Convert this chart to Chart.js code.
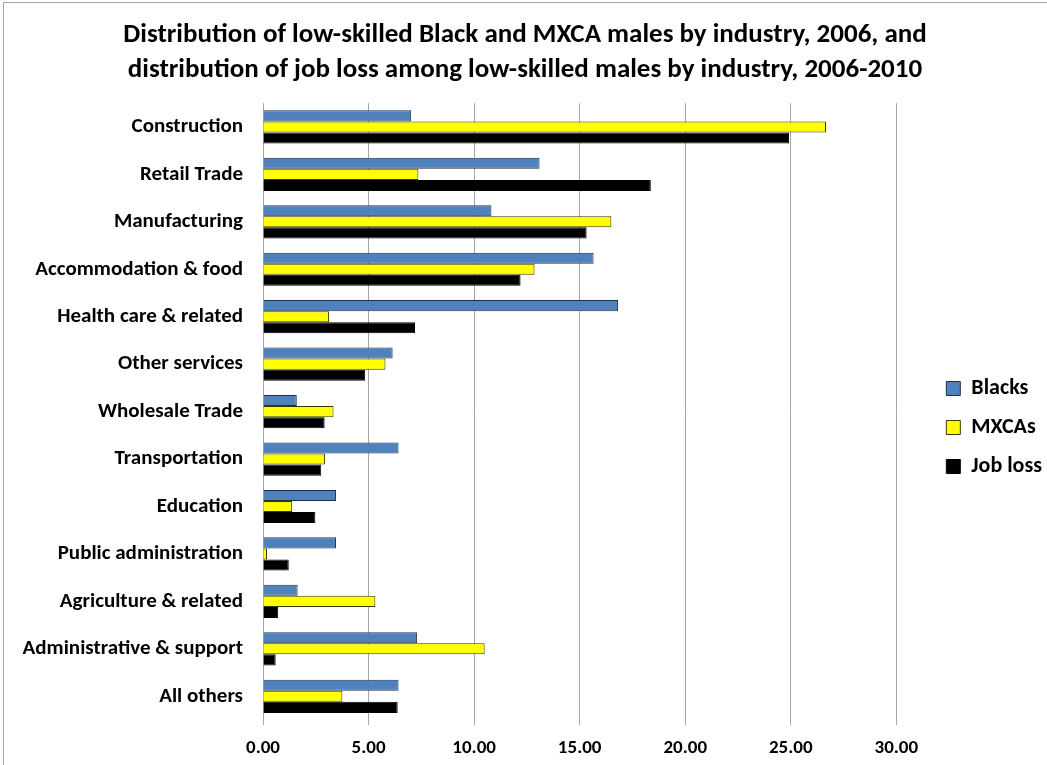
<!DOCTYPE html>
<html>
<head>
<meta charset="utf-8">
<script src="https://cdn.jsdelivr.net/npm/chart.js@4.4.1/dist/chart.umd.min.js"></script>
<style>
  html, body { margin: 0; padding: 0; background: #fff; }
  #wrap { position: relative; width: 1047px; height: 765px; box-sizing: border-box; border: 1px solid #a6a6a6; border-right: none; border-bottom: none; margin: 2px 0 0 3px; }
  canvas { display: block; }
</style>
</head>
<body>
<div id="wrap"><canvas id="chart" width="1044" height="763"></canvas></div>
<script>
const FONT = "'Carlito', 'Lato', 'Liberation Sans', sans-serif";

const industries = [
  "Construction", "Retail Trade", "Manufacturing", "Accommodation & food",
  "Health care & related", "Other services", "Wholesale Trade", "Transportation",
  "Education", "Public administration", "Agriculture & related",
  "Administrative & support", "All others"
];
const blacks  = [7.02, 13.10, 10.82, 15.66, 16.82, 6.14, 1.60, 6.42, 3.46, 3.46, 1.64, 7.30, 6.42];
const mxcas   = [26.67, 7.36, 16.50, 12.86, 3.13, 5.80, 3.34, 2.94, 1.38, 0.19, 5.32, 10.50, 3.76];
const jobLoss = [24.92, 18.37, 15.33, 12.20, 7.20, 4.84, 2.92, 2.76, 2.48, 1.22, 0.72, 0.60, 6.38];
const xTicks  = [0, 5, 10, 15, 20, 25, 30];

// legend sits lower and has a wider gap to the plot than Chart.js gives by default
const legendPlace = {
  id: "legendPlace",
  beforeLayout(chart) {
    const lg = chart.legend;
    if (!lg || lg._widened) return;
    const fit = lg.fit;
    lg.fit = function () {
      fit.call(this);
      this.width += 27;
    };
    lg._widened = true;
  },
  afterLayout(chart) {
    const lg = chart.legend;
    if (!lg) return;
    lg.top += 44;
    lg.bottom += 44;
    lg.left += 33;
    lg.right += 33;
  },
};

const ctx = document.getElementById("chart").getContext("2d");
new Chart(ctx, {
  type: "bar",
  data: {
    labels: industries,
    datasets: [
      { label: "Blacks",   data: blacks,  backgroundColor: "#4f81bd", borderColor: "#1f2f4a", borderWidth: 1 },
      { label: "MXCAs",    data: mxcas,   backgroundColor: "#ffff00", borderColor: "#3a3a00", borderWidth: 1 },
      { label: "Job loss", data: jobLoss, backgroundColor: "#000000", borderColor: "#000000", borderWidth: 1 },
    ],
  },
  plugins: [legendPlace],
  options: {
    indexAxis: "y",
    responsive: false,
    animation: false,
    categoryPercentage: 0.7,
    barPercentage: 1.0,
    layout: { padding: { left: 0, right: 2, top: 0, bottom: 2 } },
    plugins: {
      title: {
        display: true,
        text: [
          "Distribution of low-skilled Black and MXCA males by industry, 2006, and",
          "distribution of job loss among low-skilled males by industry, 2006-2010"
        ],
        color: "#000",
        font: { family: FONT, size: 27, weight: "bold", lineHeight: 1.3 },
        padding: { top: 15, bottom: 15 },
      },
      legend: {
        position: "right",
        labels: {
          color: "#000",
          font: { family: FONT, size: 22, weight: "bold" },
          boxWidth: 14,
          boxHeight: 14,
          padding: 17,
        },
      },
      tooltip: { enabled: false },
    },
    scales: {
      x: {
        min: 0,
        max: 30,
        afterBuildTicks: (axis) => { axis.ticks = xTicks.map((v) => ({ value: v })); },
        grid: { color: "#a6a6a6", lineWidth: 1, drawTicks: true, tickLength: 5 },
        border: { display: false },
        afterFit: (axis) => { axis.height = 44; },
        ticks: {
          color: "#000",
          font: { family: FONT, size: 19, weight: "bold" },
          padding: 12,
          callback: (v) => Number(v).toFixed(2),
        },
      },
      y: {
        grid: { display: false },
        border: { display: false },
        afterFit: (axis) => { axis.width = 259; },
        ticks: {
          color: "#000",
          font: { family: FONT, size: 21, weight: "bold" },
          padding: 12,
        },
      },
    },
  },
});
</script>
</body>
</html>
